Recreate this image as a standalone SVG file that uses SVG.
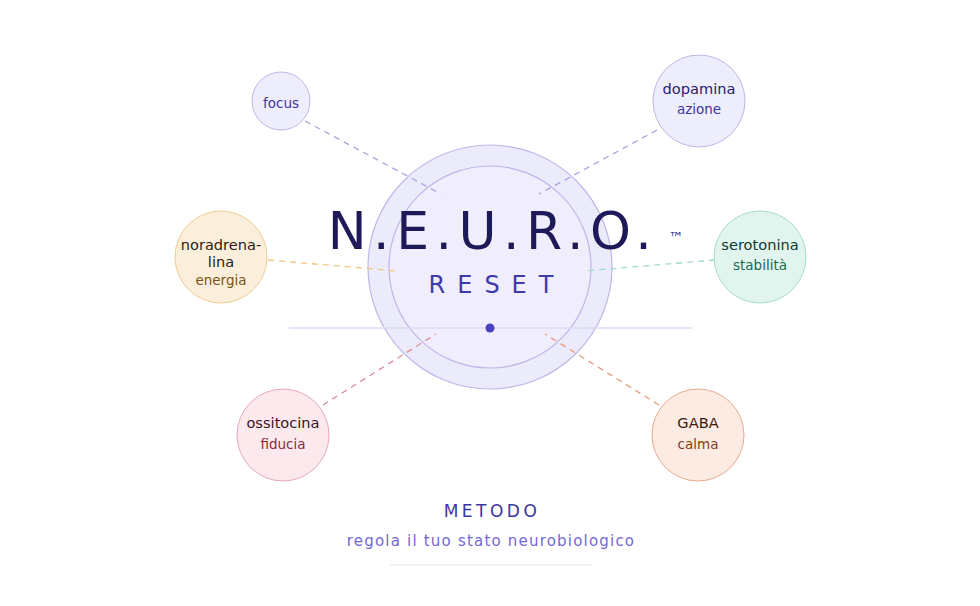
<svg xmlns="http://www.w3.org/2000/svg" width="980" height="606" viewBox="0 0 980 606">
<style>
text{font-family:"DejaVu Sans","Noto Sans",sans-serif;text-anchor:middle}
.d{fill:none;stroke-width:1.3;stroke-dasharray:6 5}
.n1{font-size:14.6px}.n2{font-size:13.5px}
</style>
<rect width="980" height="606" fill="#fff"/>
<g id="center">
<circle cx="490" cy="267" r="122" fill="#e9e8fa" fill-opacity="0.85" stroke="#bdb8ea" stroke-width="1.2"/>
<circle cx="490" cy="267" r="101" fill="#f1effc" fill-opacity="0.8" stroke="#bdb8ea" stroke-width="1.2"/>
</g>
<g id="connectors">
<line x1="289" y1="328" x2="692" y2="328" stroke="#dcdaf4" stroke-width="1.3"/>
<line class="d" x1="305" y1="121" x2="441" y2="194" stroke="#a9a3db"/>
<line class="d" x1="657" y1="130" x2="539" y2="194" stroke="#a9a3db"/>
<line class="d" x1="268" y1="260" x2="397" y2="271" stroke="#f2c77e"/>
<line class="d" x1="715" y1="260" x2="584" y2="271" stroke="#9edcc6"/>
<line class="d" x1="323" y1="405" x2="436" y2="334" stroke="#e08a9e"/>
<line class="d" x1="659" y1="405" x2="545" y2="334" stroke="#e89a7a"/>
</g>
<g id="title">
<circle cx="490" cy="328" r="4.5" fill="#4b44c0"/>
<text x="493" y="249" font-size="52" letter-spacing="6.5" fill="#1e1a5a">N.E.U.R.O.</text>
<text x="676" y="243" font-size="15" fill="#3a3590">™</text>
<text x="497" y="293" font-size="24" letter-spacing="12" fill="#4039a8">RESET</text>
</g>
<g id="focus"><circle cx="281" cy="101" r="29" fill="#eeedfb" stroke="#bcb7e8"/><text class="n2" x="281" y="108" fill="#3d36a0">focus</text></g>
<g id="dopamina"><circle cx="699" cy="101" r="46" fill="#eeedfb" stroke="#bcb7e8"/><text class="n1" x="699" y="94" fill="#262070">dopamina</text><text class="n2" x="699" y="114" fill="#3d36a0">azione</text></g>
<g id="noradrenalina"><circle cx="221" cy="257" r="46" fill="#fbefdc" stroke="#efcc8f"/><text class="n1" x="221" y="250" fill="#2a2218">noradrena-</text><text class="n1" x="221" y="267" fill="#2a2218">lina</text><text class="n2" x="221" y="285" fill="#7a5512">energia</text></g>
<g id="serotonina"><circle cx="760" cy="257" r="46" fill="#e1f5ee" stroke="#a5dcc8"/><text class="n1" x="760" y="250" fill="#0f3a2e">serotonina</text><text class="n2" x="760" y="270" fill="#1b6a4f">stabilità</text></g>
<g id="ossitocina"><circle cx="283" cy="435" r="46" fill="#fbe9ee" stroke="#e7a9b9"/><text class="n1" x="283" y="428" fill="#3a1420">ossitocina</text><text class="n2" x="283" y="449" fill="#8a2a46">fiducia</text></g>
<g id="gaba"><circle cx="698" cy="435" r="46" fill="#fbebe3" stroke="#eaaa8e"/><text class="n1" x="698" y="428" fill="#3e1a0e">GABA</text><text class="n2" x="698" y="449" fill="#8a3a1a">calma</text></g>
<g id="footer">
<text x="492" y="517" font-size="17" letter-spacing="3.5" fill="#3d36a0">METODO</text>
<text x="491" y="546" font-size="15" letter-spacing="1.2" fill="#7468d4">regola il tuo stato neurobiologico</text>
<line x1="390" y1="565" x2="591" y2="565" stroke="#e6e6ea"/>
</g>
</svg>
